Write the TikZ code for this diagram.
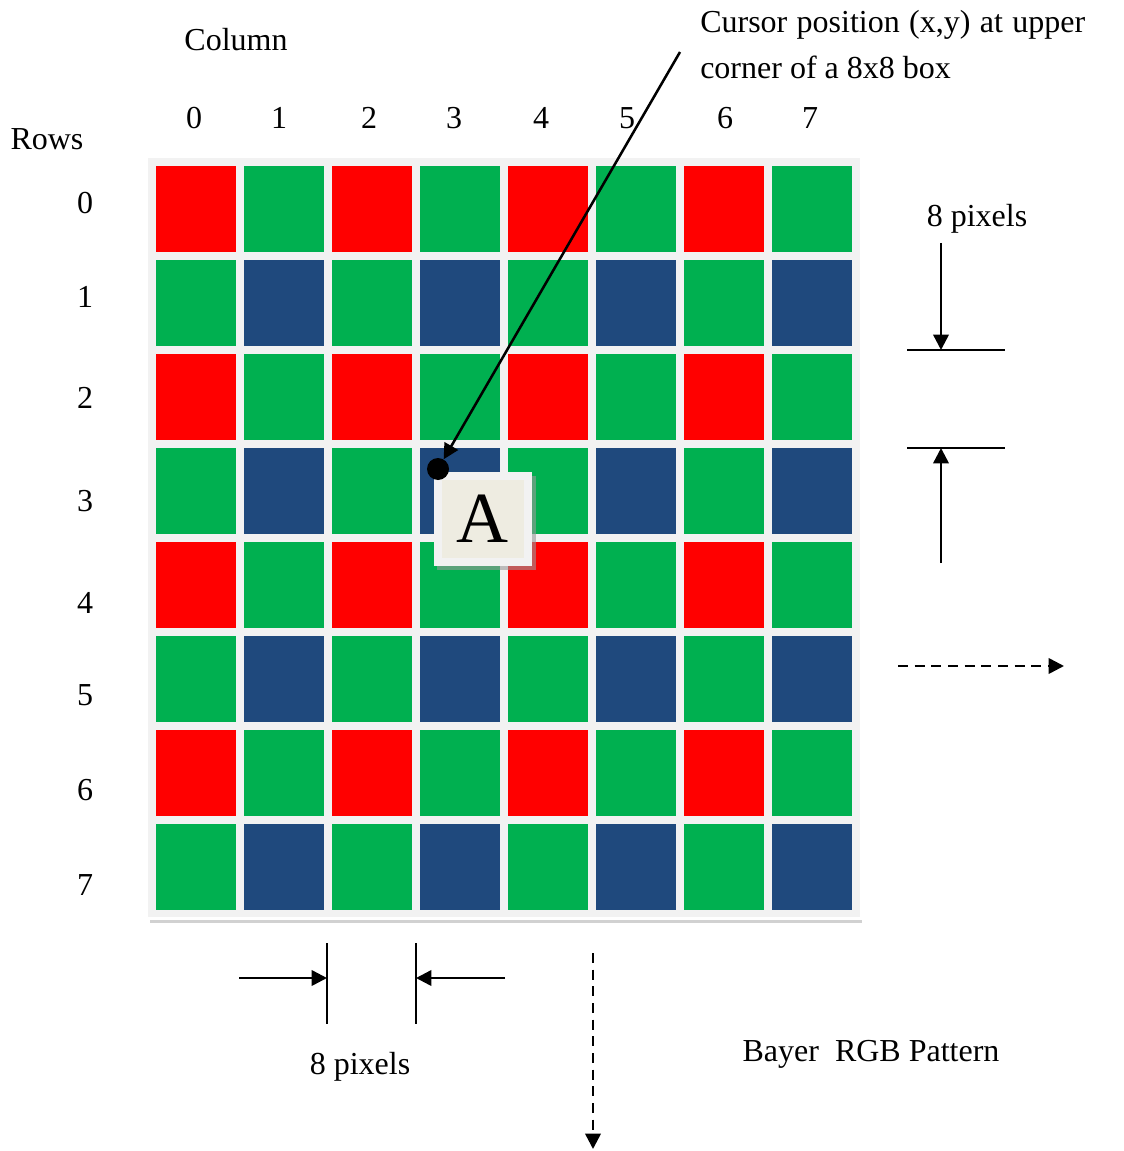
\documentclass[tikz,border=0pt]{standalone}
\usepackage{fontspec}
\setmainfont{Liberation Serif}
\usetikzlibrary{arrows.meta}
\definecolor{bayerred}{RGB}{255,0,0}
\definecolor{bayergreen}{RGB}{0,176,80}
\definecolor{bayerblue}{RGB}{31,73,125}
\definecolor{gridgray}{RGB}{242,242,242}
\definecolor{boxbeige}{RGB}{238,236,225}
\begin{document}
\begin{tikzpicture}[x=0.75pt, y=-0.75pt, every node/.style={font=\fontsize{24}{34.5}\selectfont},
  cell/.style={minimum width=60pt,minimum height=64.5pt,inner sep=0,outer sep=0},
  word/.style={anchor=base,inner sep=0},
  dimline/.style={line width=1.9pt},
  dimarrow/.style={line width=1.9pt,-{Triangle[length=11.5pt,width=11.5pt]}},
  flowarrow/.style={dimarrow,dash pattern=on 7.5pt off 5pt}]
\useasboundingbox (0,0) rectangle (1123,1151);
% pixel grid
\fill[gridgray] (148,158) rectangle (860,917);
\draw[line width=2.25pt,black!18] (150,921) -- (862,921);
\foreach \r in {0,...,7}{
  \foreach \c in {0,...,7}{
    \pgfmathtruncatemacro\k{2*mod(\r,2)+mod(\c,2)}
    \ifcase\k \def\col{bayerred}\or \def\col{bayergreen}\or \def\col{bayergreen}\or \def\col{bayerblue}\fi
    \node[cell,fill=\col] (c\r\c) at ({196+88*\c},{209+94*\r}) {};
  }
}
% headings
\node[word] (colhead) at (236,51) {Column};
\node[word] (rowhead) at (47,150) {Rows};
\foreach \c/\x in {0/194,1/279,2/369,3/454,4/541,5/627,6/725,7/810}
  \node (col\c) at (\x,118) {\c};
\foreach \r/\y in {0/203,1/297,2/398,3/501,4/603,5/695,6/790,7/885}
  \node (row\r) at (85,\y) {\r};
% box A and cursor
\fill[black!40,opacity=0.6] (437,476) rectangle (536,570);
\node[draw=gridgray,line width=6pt,fill=boxbeige,minimum width=67.5pt,minimum height=64.5pt,inner sep=0,
  font=\fontsize{54}{60}\selectfont] (abox) at (482.5,519) {A};
\node[circle,fill=black,minimum size=16.5pt,inner sep=0] (cursor) at (438,469) {};
\node[anchor=north west,inner sep=0,align=left] (note) at (700,10)
  {\makebox[288.75pt][s]{Cursor position (x,y) at upper}\\corner of a 8x8 box};
\coordinate (lead) at (680,52);
\draw[dimarrow] (lead) -- (cursor);
% vertical size
\node[word] (vsize) at (977,227) {8 pixels};
\coordinate (vtop) at (941,243); \coordinate (vhit1) at (941,350);
\coordinate (vhit2) at (941,448); \coordinate (vbot) at (941,563);
\coordinate (v1a) at (907,350); \coordinate (v1b) at (1005,350);
\coordinate (v2a) at (907,448); \coordinate (v2b) at (1005,448);
\draw[dimline] (v1a) -- (v1b); \draw[dimline] (v2a) -- (v2b);
\draw[dimarrow] (vtop) -- (vhit1); \draw[dimarrow] (vbot) -- (vhit2);
% horizontal size
\node[word] (hsize) at (360,1074) {8 pixels};
\coordinate (h1a) at (327,943); \coordinate (h1b) at (327,1024);
\coordinate (h2a) at (416,943); \coordinate (h2b) at (416,1024);
\coordinate (hleft) at (239,978); \coordinate (hhit1) at (327,978);
\coordinate (hright) at (505,978); \coordinate (hhit2) at (416,978);
\draw[dimline] (h1a) -- (h1b); \draw[dimline] (h2a) -- (h2b);
\draw[dimarrow] (hleft) -- (hhit1); \draw[dimarrow] (hright) -- (hhit2);
% scan direction
\coordinate (sx0) at (898,666); \coordinate (sx1) at (1064,666);
\coordinate (sy0) at (593,953); \coordinate (sy1) at (593,1149);
\draw[flowarrow] (sx0) -- (sx1);
\draw[flowarrow] (sy0) -- (sy1);
\node[word] (title) at (871,1061) {Bayer\ \ RGB Pattern};
\end{tikzpicture}
\end{document}
